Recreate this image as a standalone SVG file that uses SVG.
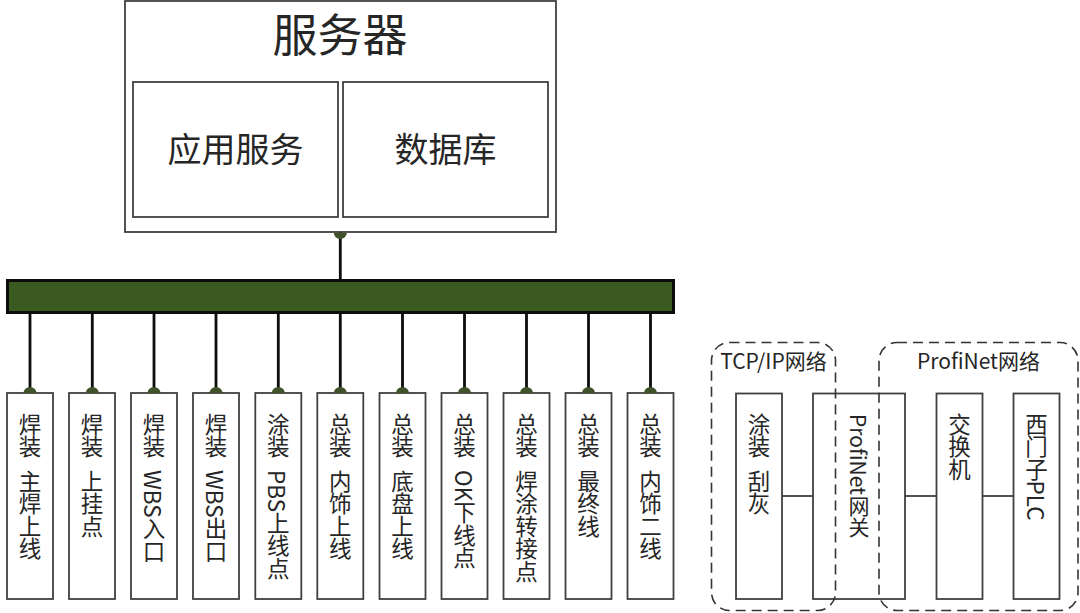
<svg xmlns="http://www.w3.org/2000/svg" width="1080" height="613" viewBox="0 0 1080 613">
<style>
text{font-family:"Noto Sans CJK SC","Noto Sans",sans-serif;fill:#262626}
.b{fill:#fff;stroke:#404040;stroke-width:1.8}
.v{writing-mode:vertical-rl;font-size:22.5px;white-space:pre;text-anchor:start;word-spacing:7px}
.c{fill:none;stroke:#0d0d0d;stroke-width:2.8}
.t{fill:none;stroke:#1a1a1a;stroke-width:1.6}
.d{fill:#3f5229}
.dash{fill:none;stroke:#333;stroke-width:1.6;stroke-dasharray:10 6}
.h{text-anchor:middle}
</style>
<g id="connectors">
<path class="c" d="M340.300 232V280M30 313V393M92.300 313V393M154 313V393M216 313V393M278.300 313V393M340.300 313V393M402.500 313V393M464.500 313V393M526.500 313V393M588.500 313V393M650.500 313V393"/>
<path class="t" d="M782 496H813M905 496H936.500M982.500 496H1013.500"/>
</g>
<g id="server"><rect class="b" x="125" y="1" width="431" height="231"/><path class="d" d="M333.800 233a6.500 6 0 0 0 13 0z"/><text class="h" x="340" y="52" font-size="45">服务器</text></g>
<g id="app"><rect class="b" x="133" y="82" width="205" height="135"/><text class="h" x="235.500" y="162" font-size="34">应用服务</text></g>
<g id="db"><rect class="b" x="343" y="82" width="205" height="135"/><text class="h" x="445.500" y="162" font-size="34">数据库</text></g>
<g id="bus"><rect x="7.500" y="280.500" width="666" height="32" fill="#3b5a22" stroke="#0d0d0d" stroke-width="3"/></g>
<g id="n1"><rect class="b" x="7" y="393" width="46" height="206"/><path class="d" d="M23.500 393a6.500 6 0 0 1 13 0z"/><text class="v" x="30" y="413">焊装 主焊上线</text></g>
<g id="n2"><rect class="b" x="69" y="393" width="46" height="206"/><path class="d" d="M85.800 393a6.500 6 0 0 1 13 0z"/><text class="v" x="92" y="413">焊装 上挂点</text></g>
<g id="n3"><rect class="b" x="131" y="393" width="46" height="206"/><path class="d" d="M147.500 393a6.500 6 0 0 1 13 0z"/><text class="v" x="154" y="413">焊装 WBS入口</text></g>
<g id="n4"><rect class="b" x="193" y="393" width="46" height="206"/><path class="d" d="M209.500 393a6.500 6 0 0 1 13 0z"/><text class="v" x="216" y="413">焊装 WBS出口</text></g>
<g id="n5"><rect class="b" x="255.300" y="393" width="46" height="206"/><path class="d" d="M271.800 393a6.500 6 0 0 1 13 0z"/><text class="v" x="278.300" y="413">涂装 PBS上线点</text></g>
<g id="n6"><rect class="b" x="317.300" y="393" width="46" height="206"/><path class="d" d="M333.800 393a6.500 6 0 0 1 13 0z"/><text class="v" x="340.300" y="413">总装 内饰上线</text></g>
<g id="n7"><rect class="b" x="379.500" y="393" width="46" height="206"/><path class="d" d="M396 393a6.500 6 0 0 1 13 0z"/><text class="v" x="402.500" y="413">总装 底盘上线</text></g>
<g id="n8"><rect class="b" x="441.500" y="393" width="46" height="206"/><path class="d" d="M458 393a6.500 6 0 0 1 13 0z"/><text class="v" x="464.500" y="413">总装 OK下线点</text></g>
<g id="n9"><rect class="b" x="503.500" y="393" width="46" height="206"/><path class="d" d="M520 393a6.500 6 0 0 1 13 0z"/><text class="v" x="526.500" y="413">总装 焊涂转接点</text></g>
<g id="n10"><rect class="b" x="565.500" y="393" width="46" height="206"/><path class="d" d="M582 393a6.500 6 0 0 1 13 0z"/><text class="v" x="588.500" y="413">总装 最终线</text></g>
<g id="n11"><rect class="b" x="627.500" y="393" width="46" height="206"/><path class="d" d="M644 393a6.500 6 0 0 1 13 0z"/><text class="v" x="650.500" y="413">总装 内饰二线</text></g>
<g id="coat"><rect class="b" x="736" y="393.500" width="46" height="205.500"/><text class="v" x="759" y="413">涂装 刮灰</text></g>
<g id="gateway"><rect class="b" x="813" y="393.500" width="92" height="205.500"/><text class="v" x="859" y="414" style="font-size:21px">ProfiNet网关</text></g>
<g id="switch"><rect class="b" x="936.500" y="393.500" width="46" height="205.500"/><text class="v" x="959.500" y="413">交换机</text></g>
<g id="plc"><rect class="b" x="1013.500" y="393.500" width="46" height="205.500"/><text class="v" x="1036.500" y="413">西门子PLC</text></g>
<g id="tcp"><rect class="dash" x="711.500" y="342.500" width="124" height="268" rx="18"/><text class="h" x="773.500" y="369" font-size="21">TCP/IP网络</text></g>
<g id="profinet"><rect class="dash" x="879" y="342.500" width="199" height="268" rx="18"/><text class="h" x="978.500" y="369" font-size="21">ProfiNet网络</text></g>
</svg>
